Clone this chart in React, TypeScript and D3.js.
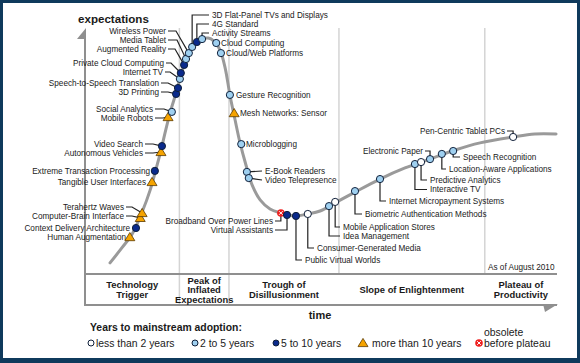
import { useEffect, useRef } from "react";
import * as d3 from "d3";

// hype curve (time 0..100, expectations 0..100)
const CURVE_T = [5.3, 7.8, 10.0, 12.1, 13.8, 15.0, 16.1, 17.2, 18.2, 19.3, 20.1, 21.0, 22.0, 23.3, 24.8, 26.1, 27.3, 28.6, 29.7, 30.7, 31.8, 32.8, 34.1, 35.4, 37.1, 39.2, 41.5, 44.5, 47.2, 49.8, 53.0, 57.2, 62.5, 67.8, 73.1, 78.4, 83.7, 90.7, 95.3, 99.8];
const CURVE_E = [4.5, 10.6, 16.3, 25.2, 34.1, 42.3, 50.4, 59.3, 66.7, 73.6, 79.3, 85.0, 89.8, 93.5, 95.5, 95.9, 94.7, 91.1, 83.7, 72.8, 62.6, 53.7, 44.3, 36.2, 30.1, 26.4, 24.8, 23.6, 24.4, 25.6, 28.9, 33.3, 38.6, 43.1, 46.7, 50.4, 53.3, 55.7, 56.9, 56.9];

// technologies: name, years-to-adoption class, position on curve
const TECH_NAMES = [
  "Human Augmentation", "Context Delivery Architecture", "Computer-Brain Interface", "Terahertz Waves",
  "Tangible User Interfaces", "Extreme Transaction Processing", "Autonomous Vehicles", "Video Search",
  "Mobile Robots", "Social Analytics", "3D Printing", "Speech-to-Speech Translation", "Internet TV",
  "Private Cloud Computing", "Augmented Reality", "Media Tablet", "Wireless Power",
  "3D Flat-Panel TVs and Displays", "4G Standard", "Activity Streams", "Cloud Computing",
  "Cloud/Web Platforms", "Gesture Recognition", "Mesh Networks: Sensor", "Microblogging",
  "E-Book Readers", "Video Telepresence", "Broadband Over Power Lines", "Virtual Assistants",
  "Public Virtual Worlds", "Consumer-Generated Media", "Idea Management", "Mobile Application Stores",
  "Biometric Authentication Methods", "Internet Micropayment Systems", "Interactive TV",
  "Predictive Analytics", "Electronic Paper", "Location-Aware Applications", "Speech Recognition",
  "Pen-Centric Tablet PCs",
];
// o: <2y, l: 2-5y, d: 5-10y, t: >10y, x: obsolete
const TECH_CLASS = ["t", "d", "t", "t", "t", "d", "t", "d", "t", "l", "d", "d", "l", "d", "d", "l", "l", "l", "d", "l", "l", "l", "l", "t", "l", "l", "l", "x", "d", "d", "o", "l", "o", "l", "l", "l", "o", "l", "l", "l", "o"];
const TECH_T = [9.5, 10.8, 11.7, 12.1, 14.2, 14.8, 16.1, 16.3, 17.6, 18.4, 19.3, 19.7, 20.1, 20.3, 21.0, 21.4, 22.0, 22.7, 23.7, 24.8, 27.8, 28.8, 30.7, 31.6, 33.1, 34.3, 34.7, 41.5, 42.8, 44.7, 47.2, 51.7, 53.0, 57.2, 62.5, 69.9, 71.2, 73.1, 75.6, 78.0, 90.7];
const TECH_E = [15.0, 18.7, 22.8, 24.8, 37.4, 41.9, 49.6, 52.0, 63.8, 65.9, 73.2, 75.6, 79.3, 81.7, 85.0, 87.4, 89.8, 92.3, 94.3, 95.5, 93.9, 89.8, 72.8, 65.4, 52.8, 41.5, 39.0, 24.8, 24.0, 23.6, 24.4, 27.6, 29.3, 33.7, 38.6, 44.7, 45.5, 46.7, 48.8, 50.0, 55.7];

const PHASES = [["Technology", "Trigger"], ["Peak of", "Inflated", "Expectations"], ["Trough of", "Disillusionment"], ["Slope of Enlightenment"], ["Plateau of", "Productivity"]];
const PHASE_BOUNDS = [0, 20, 30.5, 53.8, 84.7, 100];

const LEGEND = [
  { c: "o", label: "less than 2 years" },
  { c: "l", label: "2 to 5 years" },
  { c: "d", label: "5 to 10 years" },
  { c: "t", label: "more than 10 years" },
  { c: "x", label: "before plateau" },
];

// label layout: [x, y, anchor, leader kind, knee x]
// kind: n = none, d = horizontal then diagonal, e = elbow (horizontal + vertical), s = straight
const LABEL_LAYOUT: Record<string, [number, number, string, string, number?]> = {
  "Wireless Power": [166, 31, "end", "d", 176],
  "Media Tablet": [166, 40, "end", "d", 177],
  "Augmented Reality": [166, 49, "end", "d", 175],
  "Private Cloud Computing": [164, 63, "end", "d", 171],
  "Internet TV": [163, 72, "end", "d", 170],
  "Speech-to-Speech Translation": [159, 83, "end", "d", 168],
  "3D Printing": [159, 92, "end", "d", 168],
  "Social Analytics": [153, 109, "end", "d", 164],
  "Mobile Robots": [153, 118, "end", "d", 163],
  "Video Search": [143, 144, "end", "d", 153],
  "Autonomous Vehicles": [143, 153, "end", "d", 153],
  "Extreme Transaction Processing": [150, 171, "end", "n"],
  "Tangible User Interfaces": [146, 182, "end", "n"],
  "Terahertz Waves": [124, 207, "end", "d", 132],
  "Computer-Brain Interface": [124, 216, "end", "d", 132],
  "Context Delivery Architecture": [130, 228, "end", "n"],
  "Human Augmentation": [126, 237, "end", "n"],
  "3D Flat-Panel TVs and Displays": [211, 15, "start", "e"],
  "4G Standard": [211, 24, "start", "e"],
  "Activity Streams": [211, 33, "start", "e"],
  "Cloud Computing": [221, 43, "start", "n"],
  "Cloud/Web Platforms": [226, 53, "start", "n"],
  "Gesture Recognition": [236, 95, "start", "n"],
  "Mesh Networks: Sensor": [240, 113, "start", "n"],
  "Microblogging": [246, 144, "start", "n"],
  "E-Book Readers": [264, 171, "start", "s"],
  "Video Telepresence": [264, 180, "start", "s"],
  "Broadband Over Power Lines": [273, 221, "end", "e"],
  "Virtual Assistants": [273, 230, "end", "e"],
  "Public Virtual Worlds": [304, 260, "start", "e"],
  "Consumer-Generated Media": [316, 248, "start", "e"],
  "Mobile Application Stores": [342, 227, "start", "e"],
  "Idea Management": [342, 236, "start", "e"],
  "Biometric Authentication Methods": [364, 214, "start", "e"],
  "Internet Micropayment Systems": [388, 201, "start", "e"],
  "Predictive Analytics": [429, 180, "start", "e"],
  "Interactive TV": [429, 189.5, "start", "e"],
  "Location-Aware Applications": [448, 169, "start", "e"],
  "Speech Recognition": [462, 157, "start", "e"],
  "Electronic Paper": [423, 151, "end", "e"],
  "Pen-Centric Tablet PCs": [505, 131, "end", "e"],
};

const FONT = "'Liberation Sans', Arial, Helvetica, sans-serif";
const INK = "#1a1a1a";
const FILL: Record<string, string> = { o: "#ffffff", l: "#9fd0f0", d: "#0a2a8c" };

function marker(g: d3.Selection<SVGGElement, unknown, null, undefined>, c: string, cx: number, cy: number) {
  if (c === "t") {
    g.append("path").attr("d", `M${cx},${cy - 4.6}L${cx + 5},${cy + 3.6}L${cx - 5},${cy + 3.6}Z`)
      .attr("fill", "#f5a300").attr("stroke", "#5a3a00").attr("stroke-width", 0.8);
  } else if (c === "x") {
    g.append("circle").attr("cx", cx).attr("cy", cy).attr("r", 3.8).attr("fill", "#ee2020");
    g.append("path").attr("d", `M${cx - 1.8},${cy - 1.8}L${cx + 1.8},${cy + 1.8}M${cx + 1.8},${cy - 1.8}L${cx - 1.8},${cy + 1.8}`)
      .attr("stroke", "#fff").attr("stroke-width", 1);
  } else {
    g.append("circle").attr("cx", cx).attr("cy", cy).attr("r", 3.6)
      .attr("fill", FILL[c]).attr("stroke", "#10203a").attr("stroke-width", 1);
  }
}

export default function App() {
  const ref = useRef<SVGSVGElement>(null);

  useEffect(() => {
    const el = ref.current;
    if (!el) return;
    const W = 580, H = 363;
    const svg = d3.select(el);
    svg.selectAll("*").remove();

    // frame
    svg.append("rect").attr("width", W).attr("height", H).attr("fill", "#0f3a5c");
    svg.append("rect").attr("x", 3).attr("y", 3).attr("width", 574).attr("height", 355).attr("fill", "#fff");

    const x = d3.scaleLinear().domain([0, 100]).range([85, 557]);
    const y = d3.scaleLinear().domain([0, 100]).range([274, 28]);

    // phase dividers
    PHASE_BOUNDS.slice(1, -1).forEach((b, i) => {
      svg.append("line").attr("x1", x(b)).attr("x2", x(b)).attr("y1", 28).attr("y2", i < 2 ? 305 : 274)
        .attr("stroke", "#d4d4d4").attr("stroke-width", 1.5);
    });

    // axes
    const AX = "#8f8f8f";
    svg.append("line").attr("x1", x(0)).attr("x2", x(0)).attr("y1", 36).attr("y2", 306).attr("stroke", AX).attr("stroke-width", 2);
    svg.append("path").attr("d", `M${x(0) + 1},28L${x(0) + 1},39L${x(0) - 8},39Z`).attr("fill", AX);
    svg.append("line").attr("x1", x(0)).attr("x2", x(100)).attr("y1", 274).attr("y2", 274).attr("stroke", AX).attr("stroke-width", 2);
    svg.append("line").attr("x1", x(0) - 1).attr("x2", x(100)).attr("y1", 305).attr("y2", 305).attr("stroke", AX).attr("stroke-width", 2);
    svg.append("path").attr("d", `M${x(100) - 14},304L${x(100) + 1},304L${x(100) - 12},312Z`).attr("fill", AX);

    svg.append("text").attr("x", 78).attr("y", 19).attr("dy", "0.35em").attr("font-family", FONT)
      .attr("font-size", 11.6).attr("font-weight", "bold").attr("fill", INK).text("expectations");
    svg.append("text").attr("x", 320).attr("y", 315).attr("dy", "0.35em").attr("text-anchor", "middle").attr("font-family", FONT)
      .attr("font-size", 11).attr("font-weight", "bold").attr("fill", INK).text("time");

    // phase labels
    PHASES.forEach((lines, i) => {
      const cx = (x(PHASE_BOUNDS[i]) + x(PHASE_BOUNDS[i + 1])) / 2;
      const y0 = 290 - ((lines.length - 1) * 9.6) / 2;
      lines.forEach((ln, j) => {
        svg.append("text").attr("x", cx).attr("y", y0 + j * 9.6).attr("dy", "0.35em").attr("text-anchor", "middle")
          .attr("font-family", FONT).attr("font-size", 9.4).attr("font-weight", "bold").attr("fill", INK).text(ln);
      });
    });

    svg.append("text").attr("x", 488).attr("y", 267).attr("dy", "0.35em").attr("font-family", FONT)
      .attr("font-size", 8.2).attr("fill", INK).text("As of August 2010");

    // hype curve
    const curve = d3.line<number>().x((t) => x(t)).y((_t, i) => y(CURVE_E[i])).curve(d3.curveCatmullRom.alpha(0.5));
    svg.append("path").datum(CURVE_T).attr("d", curve).attr("fill", "none").attr("stroke", "#9a9a9a").attr("stroke-width", 3).attr("stroke-linecap", "round");

    // leaders + labels
    const lg = svg.append("g");
    TECH_NAMES.forEach((name, i) => {
      const lay = LABEL_LAYOUT[name];
      if (!lay) return;
      const [lx, ly, anchor, kind, knee] = lay;
      const px = x(TECH_T[i]), py = y(TECH_E[i]);
      const edge = anchor === "end" ? lx + 2 : lx - 2;
      let pts: [number, number][] = [];
      if (kind === "d") pts = [[edge, ly], [knee ?? px, ly], [px, py]];
      else if (kind === "e") pts = [[edge, ly], [px, ly], [px, py]];
      else if (kind === "s") pts = [[edge, ly], [px, py]];
      if (pts.length) {
        lg.append("path").attr("d", d3.line()(pts)).attr("fill", "none").attr("stroke", "#222").attr("stroke-width", 1.2);
      }
      lg.append("text").attr("x", kind === "n" || anchor === "end" ? lx : lx + 1).attr("y", ly).attr("dy", "0.35em")
        .attr("text-anchor", anchor).attr("font-family", FONT).attr("font-size", 8.2).attr("fill", INK).text(name);
    });

    // markers
    const mg = svg.append("g");
    TECH_NAMES.forEach((_n, i) => marker(mg, TECH_CLASS[i], x(TECH_T[i]), y(TECH_E[i])));

    // legend
    svg.append("text").attr("x", 90).attr("y", 327).attr("dy", "0.35em").attr("font-family", FONT)
      .attr("font-size", 10.4).attr("font-weight", "bold").attr("fill", INK).text("Years to mainstream adoption:");
    const legX = [90, 194, 275, 362, 478];
    LEGEND.forEach((d, i) => {
      const cx = legX[i] + 1;
      const lgI = svg.append("g");
      if (d.c === "t" || d.c === "x") marker(lgI, d.c, cx, 343);
      else lgI.append("circle").attr("cx", cx).attr("cy", 343).attr("r", 3).attr("fill", FILL[d.c]).attr("stroke", "#10203a").attr("stroke-width", 1);
      svg.append("text").attr("x", legX[i] + (d.c === "t" ? 10 : 6)).attr("y", 343).attr("dy", "0.35em").attr("font-family", FONT)
        .attr("font-size", 10.4).attr("fill", INK).text(d.label);
    });
    svg.append("text").attr("x", 484).attr("y", 332).attr("dy", "0.35em").attr("font-family", FONT)
      .attr("font-size", 10.4).attr("fill", INK).text("obsolete");
  }, []);

  return (
    <svg ref={ref} width={580} height={363} viewBox="0 0 580 363"
      style={{ position: "absolute", left: 0, top: 0, display: "block" }} role="img" aria-label="Hype cycle for emerging technologies" />
  );
}
